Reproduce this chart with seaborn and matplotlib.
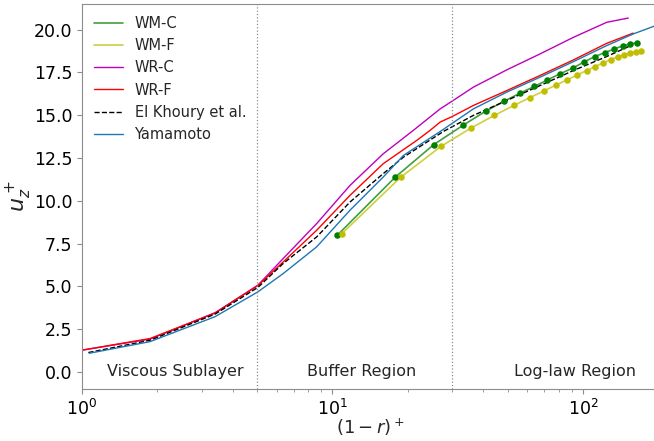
import numpy as np
import pandas as pd
import matplotlib
matplotlib.use("Agg")
import matplotlib.pyplot as plt
import seaborn as sns

# Mean axial velocity profiles in wall units
wmc_x = [10.46, 17.77, 25.35, 33.1, 40.9, 48.5, 56.0, 63.9, 71.8, 80.9, 90.9,
         100.6, 111.4, 122.4, 133.0, 144.0, 154.5, 164.3]
wmc_y = [7.99, 11.37, 13.28, 14.40, 15.24, 15.82, 16.29, 16.68, 17.05, 17.42, 17.75,
         18.10, 18.43, 18.66, 18.87, 19.05, 19.17, 19.22]

wmf_x = [10.88, 18.7, 27.1, 35.7, 44.3, 52.9, 61.4, 70.1, 78.3, 86.6, 94.9,
         103.5, 111.7, 120.2, 129.0, 137.5, 146.2, 154.5, 163.3, 170.4]
wmf_y = [8.07, 11.37, 13.18, 14.25, 14.99, 15.57, 16.03, 16.43, 16.78, 17.07, 17.36,
         17.61, 17.84, 18.06, 18.25, 18.41, 18.54, 18.64, 18.72, 18.76]

wrc_x = [1.0, 1.87, 3.4, 5.04, 6.36, 8.65, 11.75, 15.95, 21.0, 26.9, 30.3, 36.5,
         49.6, 67.3, 91.5, 124.3, 151.7]
wrc_y = [1.27, 1.92, 3.46, 5.07, 6.63, 8.67, 10.9, 12.75, 14.11, 15.37, 15.86, 16.64,
         17.65, 18.58, 19.55, 20.43, 20.68]

wrf_x = [1.0, 1.87, 3.4, 5.04, 6.36, 8.65, 11.75, 15.95, 21.7, 24.5, 26.9, 30.3,
         36.5, 49.6, 67.3, 91.5, 124.3, 158.7]
wrf_y = [1.27, 1.95, 3.44, 5.05, 6.43, 8.28, 10.32, 12.17, 13.53, 14.11, 14.6, 14.95,
         15.57, 16.44, 17.32, 18.23, 19.2, 19.8]

elk_x = [1.06, 1.87, 3.4, 5.04, 6.36, 8.65, 11.75, 15.95, 19.2, 27.7, 36.5,
         49.6, 67.3, 91.5, 124.3, 153.0]
elk_y = [1.13, 1.85, 3.38, 4.94, 6.34, 7.89, 9.93, 11.59, 12.55, 14.05, 14.99,
         15.86, 16.73, 17.61, 18.43, 19.03]

yam_x = [1.07, 1.87, 3.4, 5.04, 6.36, 8.65, 11.75, 15.95, 19.2, 27.3, 36.5,
         49.6, 67.3, 91.5, 124.3, 158.7, 192.0, 215.0]
yam_y = [1.09, 1.77, 3.23, 4.68, 5.75, 7.31, 9.45, 11.39, 12.65, 14.11, 15.37,
         16.35, 17.22, 18.13, 19.07, 19.75, 20.2, 20.45]

region_names = ["Viscous Sublayer", "Buffer Region", "Log-law Region"]
region_x = [2.35, 13.1, 93.0]
region_bounds = [5, 30]

sns.set_style("ticks", {"axes.edgecolor": "0.55", "xtick.color": "0.55",
                        "ytick.color": "0.55"})
plt.rcParams["font.family"] = ["DejaVu Sans"]

fig = plt.figure(figsize=(6.54, 4.41), dpi=100)
ax = fig.add_axes([0.1254, 0.1179, 0.8813, 0.873])

def frame(x, y):
    return pd.DataFrame({"x": x, "y": y})

sns.lineplot(data=frame(wmc_x, wmc_y), x="x", y="y", ax=ax, color="g", alpha=0.75,
             lw=1.2, label="WM-C", sort=False)
sns.scatterplot(data=frame(wmc_x, wmc_y), x="x", y="y", ax=ax, color="g", s=22,
                linewidth=0, legend=False, zorder=3)
sns.lineplot(data=frame(wmf_x, wmf_y), x="x", y="y", ax=ax, color="y", alpha=0.75,
             lw=1.2, label="WM-F", sort=False)
sns.scatterplot(data=frame(wmf_x, wmf_y), x="x", y="y", ax=ax, color="y", s=22,
                linewidth=0, legend=False, zorder=3)
sns.lineplot(data=frame(wrc_x, wrc_y), x="x", y="y", ax=ax, color="m", lw=1.0,
             label="WR-C", sort=False)
sns.lineplot(data=frame(wrf_x, wrf_y), x="x", y="y", ax=ax, color="r", lw=1.0,
             label="WR-F", sort=False)
sns.lineplot(data=frame(elk_x, elk_y), x="x", y="y", ax=ax, color="k", lw=1.0,
             ls="--", label="El Khoury et al.", sort=False)
sns.lineplot(data=frame(yam_x, yam_y), x="x", y="y", ax=ax, color="tab:blue", lw=1.0,
             label="Yamamoto", sort=False)

for b in region_bounds:
    ax.axvline(b, color="0.55", ls=":", lw=0.9)
for name, xc in zip(region_names, region_x):
    ax.text(xc, 0.0, name, ha="center", va="center", fontsize=11.5)

ax.set_xscale("log")
ax.set_xlim(1, 200)
ax.set_ylim(-1, 21.5)
ax.set_yticks(np.arange(0, 20.01, 2.5))
ax.set_yticklabels([f"{v:.1f}" for v in np.arange(0, 20.01, 2.5)])
ax.tick_params(axis="both", labelsize=12.5, labelcolor="black")
ax.set_xlabel("$(1-r)^+$", fontsize=13)
ax.set_ylabel("$u_z^+$", fontsize=16)
ax.xaxis.set_label_coords(0.5, -0.072)
ax.yaxis.set_label_coords(-0.083, 0.5)

ax.legend(loc="upper left", frameon=False, fontsize=10.5, handlelength=2.0,
          borderaxespad=0.4)

fig.savefig("out.png", dpi=100)
